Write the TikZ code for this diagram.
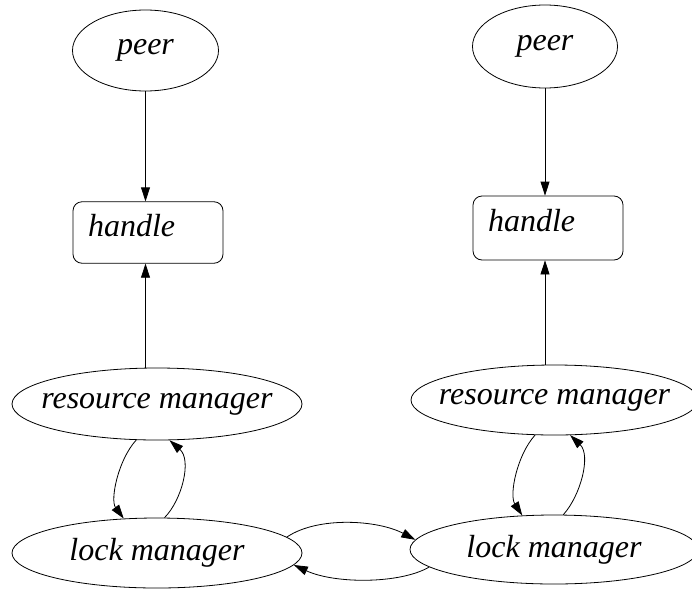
\documentclass[tikz,border=0pt]{standalone}
\usepackage{fontspec}
\setmainfont{Liberation Serif}
\usetikzlibrary{shapes.geometric,arrows.meta}
\newcommand{\ctext}[1]{\makebox[0pt][c]{#1}}
\begin{document}
\begin{tikzpicture}[x=1pt,y=-1pt,
  every node/.style={font=\fontsize{32}{36}\selectfont\itshape},
  ell/.style={draw, line width=0.8pt, ellipse, inner sep=0pt},
  hbox/.style={draw, line width=0.8pt, rectangle, rounded corners=9pt, inner xsep=15pt, inner ysep=0pt,
    text width=120pt, align=left, text height=21pt, text depth=14pt},
  conn/.style={line width=0.8pt, -{Triangle[length=14pt,width=9pt]}}
]
\useasboundingbox (0,0) rectangle (692,589);
% left column
\node[ell, minimum width=146pt, minimum height=81pt] (pL) at (145.5,50.5) {\ctext{peer}};
\node[hbox, minimum height=61.5pt] (hL) at (148,232.5) {handle};
\node[ell, minimum width=290pt, minimum height=72pt] (rL) at (157,404) {\ctext{resource manager}};
\node[ell, minimum width=290pt, minimum height=70pt] (lL) at (157,553) {\ctext{lock manager}};
% right column
\node[ell, minimum width=145pt, minimum height=83pt] (pR) at (545,46.5) {\ctext{peer}};
\node[hbox, minimum height=64pt] (hR) at (548,228) {handle};
\node[ell, minimum width=287pt, minimum height=70pt] (rR) at (554.5,400) {\ctext{resource manager}};
\node[ell, minimum width=288pt, minimum height=69pt] (lR) at (554,549.5) {\ctext{lock manager}};
% vertical connectors
\draw[conn] (pL.south) -- (pL.south |- hL.north);
\draw[conn] (rL.north -| pL.south) -- (hL.south -| pL.south);
\draw[conn] (pR.south) -- (pR.south |- hR.north);
\draw[conn] (rR.north -| pR.south) -- (hR.south -| pR.south);
% resource manager <-> lock manager, left
\draw[conn] (rL.240.7) .. controls (118,460) and (110,500) .. (lL.134.1);
\draw[conn] (lL.78.7) .. controls (182,500) and (192,460) .. (rL.289.9);
% resource manager <-> lock manager, right
\draw[conn] (rR.241.9) .. controls (517,455) and (509,495) .. (lR.133.6);
\draw[conn] (lR.75.3) .. controls (581,495) and (591,455) .. (rR.294);
% lock manager <-> lock manager
\draw[conn] (lL.7.1) .. controls (318,516) and (378,520) .. (lR.176.5);
\draw[conn] (lR.188.9) .. controls (400,584) and (335,584) .. (lL.355);
\end{tikzpicture}
\end{document}
